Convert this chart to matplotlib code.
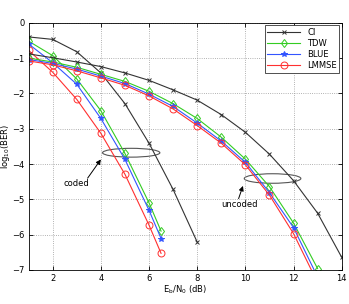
import matplotlib
matplotlib.use("Agg")
import matplotlib.pyplot as plt
from matplotlib.patches import Ellipse

# coded curves
x_coded = [1, 2, 3, 4, 5, 6, 6.5]
x_ci_coded = [1, 2, 3, 4, 5, 6, 7, 8]
ci_coded = [-0.40, -0.47, -0.82, -1.42, -2.29, -3.41, -4.72, -6.21]
tdw_coded = [-0.52, -0.93, -1.59, -2.49, -3.70, -5.10, -5.90]
blue_coded = [-0.60, -1.13, -1.74, -2.71, -3.87, -5.31, -6.11]
lmmse_coded = [-0.78, -1.40, -2.17, -3.13, -4.29, -5.73, -6.53]

# uncoded curves
x_unc = [1, 2, 3, 4, 5, 6, 7, 8, 9, 10, 11, 12, 13]
x_ci_unc = [1, 2, 3, 4, 5, 6, 7, 8, 9, 10, 11, 12, 13, 14]
ci_unc = [-0.88, -0.99, -1.11, -1.24, -1.42, -1.63, -1.90, -2.19, -2.60, -3.10, -3.72, -4.47, -5.39, -6.64]
tdw_unc = [-1.00, -1.11, -1.26, -1.46, -1.66, -1.94, -2.29, -2.71, -3.24, -3.86, -4.64, -5.67, -6.96]
blue_unc = [-1.04, -1.15, -1.31, -1.51, -1.72, -2.02, -2.37, -2.84, -3.35, -3.95, -4.81, -5.80, -7.20]
lmmse_unc = [-1.08, -1.19, -1.36, -1.56, -1.77, -2.07, -2.44, -2.91, -3.41, -4.02, -4.88, -5.97, -7.36]

c_ci = "#333333"
c_tdw = "#33cc22"
c_blue = "#3355ff"
c_lmmse = "#ff3030"

fig = plt.figure(figsize=(3.49, 3.04), dpi=100)
ax = fig.add_axes([0.082, 0.112, 0.897, 0.813])

lw = 0.8
ax.plot(x_ci_coded, ci_coded, '-x', color=c_ci, lw=lw, ms=3.5, mew=0.7, label='CI')
ax.plot(x_coded, tdw_coded, '-d', color=c_tdw, lw=lw, ms=4.5, mew=0.7, mfc='none', label='TDW')
ax.plot(x_coded, blue_coded, '-*', color=c_blue, lw=lw, ms=4, mew=0.7, label='BLUE')
ax.plot(x_coded, lmmse_coded, '-o', color=c_lmmse, lw=lw, ms=5, mew=0.7, mfc='none', label='LMMSE')

ax.plot(x_ci_unc, ci_unc, '-x', color=c_ci, lw=lw, ms=3.5, mew=0.7)
ax.plot(x_unc, tdw_unc, '-d', color=c_tdw, lw=lw, ms=4.5, mew=0.7, mfc='none')
ax.plot(x_unc, blue_unc, '-*', color=c_blue, lw=lw, ms=4, mew=0.7)
ax.plot(x_unc, lmmse_unc, '-o', color=c_lmmse, lw=lw, ms=5, mew=0.7, mfc='none')

ax.add_patch(Ellipse((5.26, -3.68), 2.38, 0.25, fill=False, ec='#555555', lw=0.8))
ax.add_patch(Ellipse((11.13, -4.41), 2.35, 0.27, fill=False, ec='#555555', lw=0.8))

arrow = dict(arrowstyle='-|>', color='k', lw=0.7, shrinkA=0, shrinkB=0, mutation_scale=7)
ax.annotate('', xy=(4.0, -3.87), xytext=(3.45, -4.40), arrowprops=arrow)
ax.text(3.0, -4.56, 'coded', fontsize=6, ha='center', va='center')
ax.annotate('', xy=(9.9, -4.62), xytext=(9.72, -4.98), arrowprops=arrow)
ax.text(9.75, -5.14, 'uncoded', fontsize=6, ha='center', va='center')

ax.set_xlim(1, 14)
ax.set_ylim(-7, 0)
ax.set_xticks([2, 4, 6, 8, 10, 12, 14])
ax.set_yticks([0, -1, -2, -3, -4, -5, -6, -7])
ax.tick_params(direction='in', labelsize=6, top=True, right=True, length=3, width=0.6, pad=3)
ax.grid(True, linestyle=':', color='#999999', lw=0.6)
for s in ax.spines.values():
    s.set_linewidth(0.6)

ax.set_xlabel(r'E$_\mathrm{b}$/N$_0$ (dB)', fontsize=6, labelpad=0)
ax.set_ylabel(r'log$_{10}$(BER)', fontsize=6)
ax.yaxis.set_label_coords(-0.052, 0.5)

leg = ax.legend(loc='upper right', fontsize=6, fancybox=False, framealpha=1,
                edgecolor='#333333', borderpad=0.3, labelspacing=0.25,
                handlelength=4, borderaxespad=0.3)
leg.get_frame().set_linewidth(0.6)

fig.savefig("out.png", dpi=100)
